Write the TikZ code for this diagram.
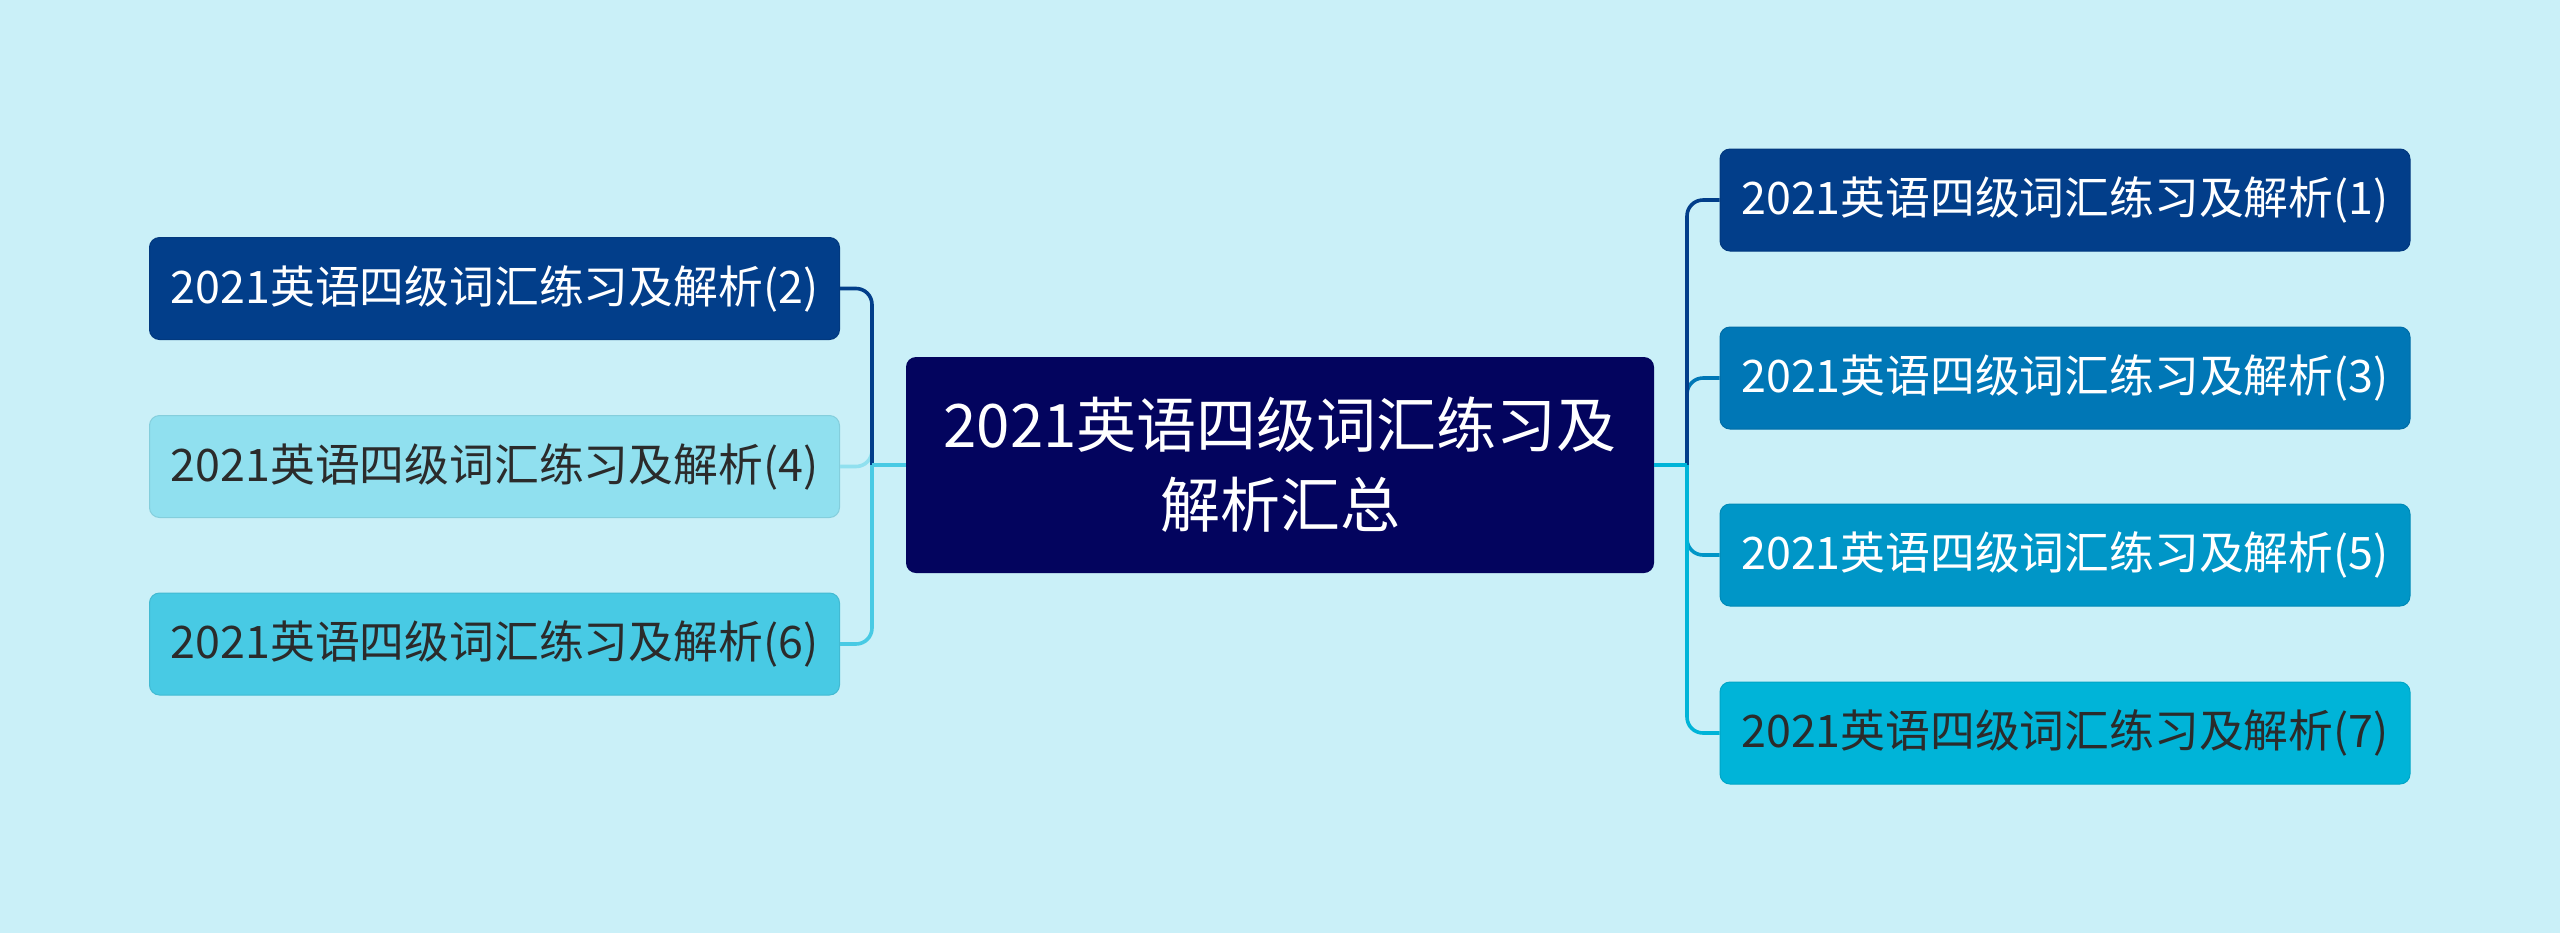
\documentclass[tikz,border=0pt]{standalone}
\usepackage{fontspec}
\setmainfont{Noto Sans CJK SC}
\definecolor{bg}{HTML}{CAF0F8}
\definecolor{cnavy}{HTML}{03045E}
\definecolor{cdark}{HTML}{023E8A}
\definecolor{cmid}{HTML}{0077B6}
\definecolor{cmid2}{HTML}{0096C7}
\definecolor{ccyan}{HTML}{00B4D8}
\definecolor{clight}{HTML}{48CAE4}
\definecolor{cpale}{HTML}{90E0EF}
\definecolor{tdark}{HTML}{2B2B2B}
\tikzset{
  rootbox/.style={rectangle, rounded corners=5pt, fill=cnavy, text=white,
    minimum width=374pt, minimum height=108pt, align=center, inner sep=0pt,
    font=\fontsize{30pt}{40pt}\selectfont},
  leafbox/.style={rectangle, rounded corners=5pt, fill=#1, draw=#1!92!black, line width=0.5pt,
    minimum width=345pt, minimum height=51pt, inner sep=0pt,
    font=\fontsize{22.4pt}{28pt}\selectfont},
  link/.style={draw=#1, line width=1.8pt, rounded corners=8pt}
}
\begin{document}
\begin{tikzpicture}[x=0.5pt,y=-0.5pt]
\fill[bg] (0,0) rectangle (2560,933);
\useasboundingbox (0,0) rectangle (2560,933);

\node[rootbox] (root) at (1280,465) {2021英语四级词汇练习及\\解析汇总};

\node[leafbox=cdark, text=white] (n1) at (2065,200) {2021英语四级词汇练习及解析(1)};
\node[leafbox=cmid, text=white] (n3) at (2065,378) {2021英语四级词汇练习及解析(3)};
\node[leafbox=cmid2, text=white] (n5) at (2065,555) {2021英语四级词汇练习及解析(5)};
\node[leafbox=ccyan, text=tdark] (n7) at (2065,733) {2021英语四级词汇练习及解析(7)};

\node[leafbox=cdark, text=white] (n2) at (494.5,288.5) {2021英语四级词汇练习及解析(2)};
\node[leafbox=cpale, text=tdark] (n4) at (494.5,466.5) {2021英语四级词汇练习及解析(4)};
\node[leafbox=clight, text=tdark] (n6) at (494.5,644) {2021英语四级词汇练习及解析(6)};

\coordinate (jr) at (1687,465);
\coordinate (jl) at (872,465);

% right side
\draw[link=cmid2] (jr) |- (n5.west);
\draw[link=cmid] (jr) |- (n3.west);
\draw[link=cdark] (jr) |- (n1.west);
\draw[link=ccyan] (jr) |- (n7.west);
\draw[line width=1.8pt, draw=ccyan] (root.east) -- (jr);

% left side
\draw[link=cpale] (jl) -- (jl |- n4.east) -- (n4.east);
\draw[link=cdark] (jl) |- (n2.east);
\draw[link=clight] (jl) |- (n6.east);
\draw[line width=1.8pt, draw=clight] (root.west) -- (jl);
\end{tikzpicture}
\end{document}
